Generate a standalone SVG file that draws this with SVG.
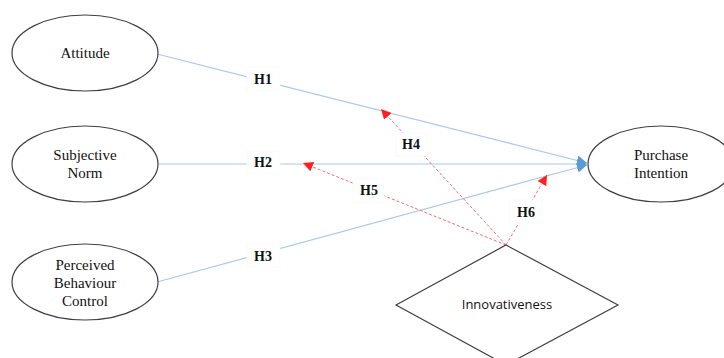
<svg xmlns="http://www.w3.org/2000/svg" width="724" height="358" viewBox="0 0 724 358">
<defs>
<style>
.node{fill:#fff;stroke:#404040;stroke-width:1.2}
.nt{font-family:"Liberation Serif",serif;font-size:15px;fill:#111;text-anchor:middle}
.it{font-family:"Open Sans","Liberation Sans",sans-serif;font-size:13px;fill:#111;text-anchor:middle}
.blue{stroke:#a9c9ea;stroke-width:1.2;fill:none}
.red{stroke:#f07070;stroke-width:1;stroke-dasharray:3,2;fill:none}
.lb{fill:#fff;stroke:#f7f7f7;stroke-width:0.8}
.lt{font-family:"Liberation Serif",serif;font-size:14px;font-weight:bold;fill:#111;text-anchor:middle}
</style>
<marker id="ab" viewBox="0 0 10 10" refX="10" refY="5" markerWidth="10" markerHeight="10" markerUnits="userSpaceOnUse" orient="auto"><path d="M0,0 L10,5 L0,10 z" fill="#5b9bd5"/></marker>
<marker id="ar" viewBox="0 0 10 10" refX="10" refY="5" markerWidth="10" markerHeight="10" markerUnits="userSpaceOnUse" orient="auto"><path d="M0,0 L10,5 L0,10 z" fill="#ff2020"/></marker>
</defs>
<rect width="724" height="358" fill="#fff"/>
<g id="connectors">
<line class="blue" x1="157" y1="54" x2="587" y2="163" marker-end="url(#ab)"/>
<line class="blue" x1="157" y1="164" x2="587" y2="164" marker-end="url(#ab)"/>
<line class="blue" x1="157" y1="282" x2="587" y2="165" marker-end="url(#ab)"/>
<line class="red" x1="506" y1="245" x2="381" y2="109" marker-end="url(#ar)"/>
<line class="red" x1="506" y1="245" x2="303" y2="163" marker-end="url(#ar)"/>
<line class="red" x1="506" y1="245" x2="547" y2="175" marker-end="url(#ar)"/>
<rect class="lb" x="247" y="67" width="33" height="23"/><text class="lt" x="263" y="84">H1</text>
<rect class="lb" x="247" y="151" width="33" height="23"/><text class="lt" x="263" y="167">H2</text>
<rect class="lb" x="247" y="244" width="33" height="23"/><text class="lt" x="263" y="261">H3</text>
<rect class="lb" x="396" y="133" width="31" height="23"/><text class="lt" x="411" y="149">H4</text>
<rect class="lb" x="353" y="179" width="31" height="23"/><text class="lt" x="369" y="195">H5</text>
<rect class="lb" x="510" y="200" width="32" height="23"/><text class="lt" x="526" y="217">H6</text>
</g>
<g id="attitude"><ellipse class="node" cx="85" cy="53" rx="73" ry="38"/><text class="nt" x="85" y="58">Attitude</text></g>
<g id="subjective-norm"><ellipse class="node" cx="85" cy="164" rx="73" ry="38"/><text class="nt" x="85" y="160">Subjective</text><text class="nt" x="85" y="178">Norm</text></g>
<g id="pbc"><ellipse class="node" cx="85" cy="282" rx="73" ry="38"/><text class="nt" x="85" y="270">Perceived</text><text class="nt" x="85" y="288">Behaviour</text><text class="nt" x="85" y="306">Control</text></g>
<g id="purchase-intention"><ellipse class="node" cx="661" cy="164" rx="73" ry="38"/><text class="nt" x="661" y="160">Purchase</text><text class="nt" x="661" y="178">Intention</text></g>
<g id="innovativeness"><polygon class="node" points="506,245 618,305 506,365 396,305"/><text class="it" x="507" y="309">Innovativeness</text></g>
</svg>
